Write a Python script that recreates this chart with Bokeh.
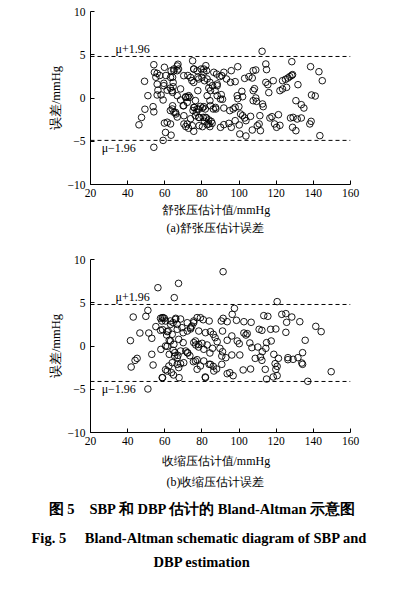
from bokeh.plotting import figure
from bokeh.models import Range1d, FixedTicker, Span, Label, Title
from bokeh.layouts import column
from bokeh.embed import file_html
from bokeh.resources import INLINE

# ---------------- data ----------------
dbp_mean = [54.1, 54.4, 55.9, 55.2, 57.3, 49.1, 55.9, 56.3, 55.9, 50.9, 58.0, 59.1, 59.8, 60.6, 59.5,
            61.3, 63.0, 63.8, 64.2, 64.5, 63.4, 64.9, 66.7, 67.1, 67.4, 64.2, 64.5, 68.5, 68.5, 53.7,
            54.1, 49.3, 47.5, 46.1, 59.8, 61.3, 59.1, 54.1, 63.4, 63.0, 64.2, 64.9, 66.0, 66.7, 69.9,
            71.3, 72.4, 73.5, 72.1, 70.3, 70.3, 71.3, 72.8, 75.6, 73.9, 75.0, 75.6, 72.4, 74.6, 75.6,
            77.4, 77.8, 76.5, 75.9, 75.2, 77.0, 78.2, 77.8, 78.5, 78.5,
            79.6, 81.0, 82.1, 82.5, 80.0, 81.4, 82.8, 84.3, 85.7, 87.1, 88.2, 87.9, 89.6, 90.7, 91.8,
            93.2, 95.4, 95.8, 97.9, 99.3, 83.7, 84.6, 82.8, 88.2, 90.4, 91.1, 84.3, 81.0, 81.8, 80.3,
            84.6, 86.1, 87.5, 91.8, 95.0, 96.8, 97.9, 99.9, 80.7, 82.5, 81.4, 83.7, 85.0, 82.8, 84.3,
            85.5, 80.3, 90.0, 91.8, 94.5, 95.8, 97.9, 100.1, 100.4, 103.7, 100.8, 101.9, 103.0, 103.7,
            106.2, 107.1, 109.8, 110.8, 111.5, 111.2, 112.6, 113.0, 107.6, 109.0, 109.4, 107.6, 108.3,
            101.5, 101.9, 99.0, 99.3, 103.0, 105.3, 107.1, 107.6, 109.0, 114.4, 114.8, 112.4, 114.4,
            115.5, 116.0, 118.4, 116.6, 117.7, 119.1, 120.2, 122.0, 121.2, 122.0, 123.4, 125.6, 123.4,
            125.0, 126.3, 127.3, 128.4, 128.8, 131.7, 128.4, 127.7, 129.1, 131.3, 133.5, 128.8, 130.6,
            130.6, 133.5, 134.9, 138.5, 143.0, 144.8, 139.0, 141.0, 138.1, 138.8, 143.5,
            64.9, 66.7, 63.1, 59.5, 66.7, 65.8, 64.0, 63.1, 60.4,
            71.2, 72.9, 70.2, 75.6, 77.4, 79.2, 76.5, 78.3, 72.1, 74.8, 81.9, 83.7, 81.0, 75.6, 73.9,
            70.2, 78.3, 86.4, 88.2, 90.0, 87.3]
dbp_diff = [3.85, 2.97, 2.85, 2.4, 2.6, 1.93, 1.6, 0.9, 0.35, 0.27, 0.35, -0.23, 3.55, 2.6, 1.7,
            0.9, 1.15, 0.85, 0.65, 1.3, 3.15, 3.15, 3.7, 3.9, 3.35, 2.4, 1.8, 1.05, -0.23, -1.0,
            -1.6, -1.3, -2.25, -3.1, -2.9, -2.8, -4.9, -5.7, -4.3, -1.45, -0.9, -1.65, -1.85, -2.2, -0.9,
            0.15, 0.08, 0.08, -0.5, -2.05, -3.0, -3.3, -3.5, -3.85, -2.4, 4.3, 3.35, 2.6, 2.0, 1.8,
            3.15, 2.4, -0.3, -1.1, -1.45, -1.65, -1.3, 0.85, -2.25, -3.2,
            3.35, 2.97, 3.74, 3.16, 2.39, 2.0, 2.2, 1.81, 1.43, 0.85, 1.62, 2.77, 2.47, 2.58, 2.97,
            2.2, 1.81, 3.16, 1.89, 3.62, 1.16, 0.85, 0.27, 0.27, 0.39, -0.15, -0.31, -1.0, -1.27, -1.16,
            -0.89, -1.27, -1.27, -1.16, -1.46, -1.27, -1.08, -1.0, -2.24, -2.31, -2.7, -2.54, -2.7, -3.08, -3.31,
            -2.93, -3.31, -3.39, -3.08, -2.93, -3.39, -2.62, -3.12, -4.16, -4.39, -1.85, -2.04, -2.31, -2.62,
            -2.12, -3.7, -3.2, -3.0, -3.78, -2.04, -0.69, -1.0, -0.31, 0.0, -0.39, 0.85, 1.08,
            0.77, 0.15, 0.27, -0.08, 2.27, 2.47, 2.31, 3.16, 3.24, 3.93, 3.28, 5.4, 1.81,
            1.54, 0.62, 2.0, -2.31, -2.16, -3.0, -3.39, -3.16, -1.93, 0.85, 1.04, 1.23, 2.0,
            2.16, 2.31, 2.47, 2.62, 2.7, 1.54, 4.2, -2.31, -2.24, -2.43, -2.31, -3.39, -3.78,
            -0.31, -0.77, -1.16, 3.62, 3.04, 2.0, 0.35, 0.23, -3.0, -2.7, -4.35,
            3.35, 3.16, 2.38, 1.42, 0.27, -1.66, -1.27, -3.0, -3.98,
            0.07, 0.27, -0.89, -1.09, -1.27, -0.97, -2.05, -2.24, -3.0, -3.2, -2.24, -3.0, 3.35, 3.35, 2.38,
            2.58, 2.2, 2.97, 1.42, -0.12, -1.09]
dbp_upper = 4.8
dbp_lower = -4.9

sbp_mean = [56.3, 65.1, 67.4, 50.9, 49.8, 43.0, 57.7, 59.1, 59.8, 58.4, 55.2, 57.7, 58.8, 61.3, 61.0,
            46.6, 51.4, 53.0, 41.5, 63.0, 64.5, 65.9, 66.7, 68.5, 69.2, 69.9, 72.1, 73.9, 74.6, 75.6,
            77.4, 62.4, 61.3, 57.9, 62.4, 64.5, 65.3, 67.1, 68.5, 69.9, 53.0, 45.1, 44.0, 41.9, 53.7,
            60.4, 62.2, 63.6, 64.7, 58.8, 67.7, 66.7, 68.5, 71.3, 72.4, 73.5, 75.6, 76.7, 78.2, 75.4,
            77.4, 50.9,
            91.4, 120.5, 97.5, 96.3, 90.4, 91.4, 93.6, 98.6, 102.6, 106.5, 113.3, 115.5, 123.0, 125.2, 128.4,
            125.6, 132.7, 141.3, 144.2, 135.6, 125.2, 119.8, 117.0, 110.8, 112.3, 102.6, 104.4, 103.7, 91.1,
            96.1, 99.0, 100.1, 105.8, 106.9, 110.1, 112.5, 114.4, 114.8, 117.3, 111.5, 112.3, 108.7, 106.2,
            102.2, 100.4, 96.1, 92.9, 90.7, 91.1, 89.7, 93.6, 87.1, 88.2, 84.6, 86.1, 83.9, 80.7, 85.7,
            82.8, 84.3, 81.0, 83.9, 86.1, 87.9, 90.7, 93.6, 95.0, 96.8, 81.8, 118.7, 121.2, 119.4, 120.5,
            119.8, 118.4, 120.5, 114.8, 114.1, 126.3, 126.3, 129.1, 131.7, 134.2, 133.8, 134.2, 137.0, 149.6,
            58.6, 60.4, 63.1, 65.8, 61.8, 64.0, 66.7, 63.1, 64.9, 67.5, 60.4, 65.4, 66.7, 64.0, 67.5,
            61.3, 58.6,
            72.1, 75.6, 79.2, 73.9, 78.3, 81.9, 76.5, 78.3, 80.1, 81.0, 72.1, 70.2, 76.5, 79.2, 77.4,
            84.6, 86.4, 81.9]
sbp_diff = [6.74, 5.59, 7.24, 4.12, 3.43, 3.35, 3.2, 3.28, 3.2, 2.89, 2.24, 1.81, 1.89, 1.66, 1.27,
            1.5, 1.5, 0.89, 0.62, 2.89, 2.7, 3.2, 2.5, 3.12, 2.12, 1.54, 1.73, 1.97, 2.31, 2.7,
            3.28, 0.66, -0.04, -0.39, -0.96, -0.5, -1.16, -1.08, -0.58, 0.39, -0.96, -1.43, -1.66, -2.43, -2.2,
            -2.74, -2.31, -3.08, -3.35, -3.66, -3.66, -2.12, -2.04, -0.58, -0.81, -1.12, 0.39, 0.12, -0.12, -1.81,
            -1.58, -4.97,
            8.59, 5.13, 4.35, 3.66, 2.89, 3.2, 2.81, 2.97, 2.81, 2.74, 3.51, 3.43, 3.66, 3.74, 3.35,
            2.74, 2.81, 2.27, 1.66, 0.66, 1.58, 1.97, 1.93, 1.93, 1.81, 1.5, 1.43, 1.27, 1.73,
            1.16, 0.58, 0.27, 0.35, -0.19, -0.12, -0.66, -0.27, 0.39, 0.58, -1.27, -1.66, -1.43, -2.66,
            -2.77, -1.04, -1.04, -1.35, -1.16, -0.66, -0.27, 0.66, 0.96, 0.5, 1.66, 1.35, 2.89, 3.04, -0.27,
            0.12, -0.81, -1.73, -2.12, -2.35, -2.66, -2.12, -3.2, -3.08, -3.43, -3.58, -0.96, -1.43, -2.04, -2.35,
            -2.7, -3.58, -3.43, -3.82, -2.7, -1.35, -1.58, -1.54, -1.35, -0.77, -1.97, -2.12, -4.08, -2.97,
            3.27, 2.89, 2.5, 3.08, 1.73, 1.35, 1.93, 0.58, 0.19, 0.77, 0.0, -0.77, -1.35, -1.93, -2.5,
            -2.89, -3.66,
            2.69, 2.89, 3.27, 2.12, 1.73, 1.54, 0.58, 0.19, 0.31, -0.38, -0.77, -1.93, -1.73, -2.31, -2.69,
            -2.12, -2.89, -3.66]
sbp_upper = 4.8
sbp_lower = -4.1

x_ticks = [20, 40, 60, 80, 100, 120, 140, 160]
y_ticks = [-10, -5, 0, 5, 10]
y_tick_labels = {-10: "\u221210", -5: "\u22125", 0: "0", 5: "5", 10: "10"}

upper_text = "\u03bc+1.96"
lower_text = "\u03bc\u22121.96"
caption_lines = ["图 5　SBP 和 DBP 估计的 Bland-Altman 示意图",
                 "Fig. 5　 Bland-Altman schematic diagram of SBP and",
                 "DBP estimation"]

SERIF = "Liberation Serif"
LEFT = 90
FRAME_W = 260
FRAME_H = 173
W = 390


def add_title(p, text, offset, standoff, size="12px", style="normal"):
    t = Title(text=text, align="left", offset=offset, standoff=standoff,
              text_font=SERIF, text_font_size=size, text_font_style=style,
              text_color="black")
    p.add_layout(t, "below")


def make_panel(xs, ys, upper, lower, border_top, border_bottom):
    p = figure(width=W, height=border_top + FRAME_H + border_bottom,
               output_backend="svg", toolbar_location=None,
               x_range=Range1d(20, 160), y_range=Range1d(-10, 10),
               min_border_left=LEFT, min_border_right=W - LEFT - FRAME_W,
               min_border_top=border_top, min_border_bottom=border_bottom)
    p.outline_line_color = None
    p.grid.visible = False
    p.background_fill_color = "white"
    p.border_fill_color = "white"

    for ax in (p.xaxis[0], p.yaxis[0]):
        ax.major_tick_in = 4
        ax.major_tick_out = 0
        ax.minor_tick_line_color = None
        ax.axis_line_color = "black"
        ax.major_tick_line_color = "black"
        ax.major_label_text_font = SERIF
        ax.major_label_text_font_size = "11.5px"
        ax.major_label_text_color = "black"
        ax.axis_label_text_font = SERIF
        ax.axis_label_text_font_size = "12.5px"
        ax.axis_label_text_font_style = "normal"
        ax.axis_label_text_color = "black"

    p.xaxis.ticker = FixedTicker(ticks=x_ticks)
    p.yaxis.ticker = FixedTicker(ticks=y_ticks)
    p.yaxis.major_label_overrides = y_tick_labels
    p.xaxis.major_label_standoff = 4
    p.yaxis.major_label_standoff = 5
    p.yaxis.axis_label = "误差/mmHg"
    p.yaxis.axis_label_standoff = 2

    for loc in (upper, lower):
        p.add_layout(Span(location=loc, dimension="width", line_color="black",
                          line_dash="4 3", line_width=1))

    p.add_layout(Label(x=33.5, y=upper, text=upper_text, text_font=SERIF,
                       text_font_size="12px", text_baseline="bottom", text_align="left",
                       text_color="black"))
    p.add_layout(Label(x=26.0, y=lower, text=lower_text, text_font=SERIF,
                       text_font_size="12px", text_baseline="top", text_align="left",
                       text_color="black", y_offset=-1))

    p.scatter(xs, ys, marker="circle", size=6.6, fill_color=None,
              line_color="black", line_width=0.9)
    return p


p1 = make_panel(dbp_mean, dbp_diff, dbp_upper, dbp_lower, 11, 54)
add_title(p1, "舒张压估计值/mmHg", 71, 3)
add_title(p1, "(a)舒张压估计误差", 76, 0)

p2 = make_panel(sbp_mean, sbp_diff, sbp_upper, sbp_lower, 21, 172)
add_title(p2, "收缩压估计值/mmHg", 71, 8)
add_title(p2, "(b)收缩压估计误差", 76, 2)
add_title(p2, caption_lines[0], -42, 19, size="14.5px", style="bold")
add_title(p2, caption_lines[1], -59, 2, size="14.5px", style="bold")
add_title(p2, caption_lines[2], 63, 11, size="14.5px", style="bold")

layout = column(p1, p2, spacing=0)

with open("out.html", "w") as f:
    f.write(file_html(layout, INLINE))
